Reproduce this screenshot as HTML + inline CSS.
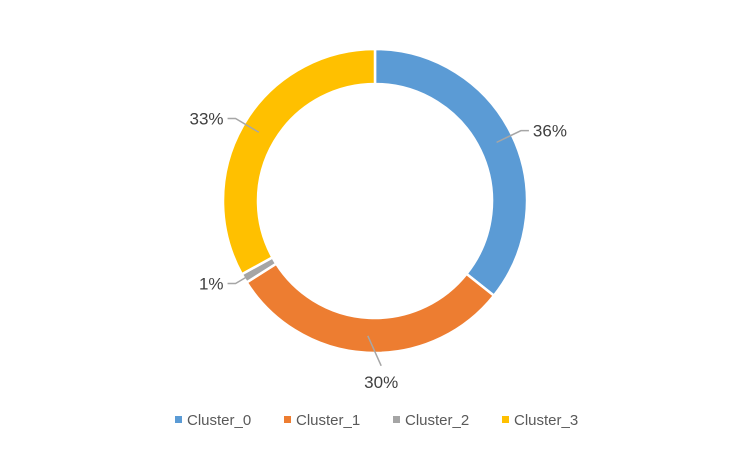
<!DOCTYPE html>
<html><head><meta charset="utf-8"><style>
body{margin:0;background:#fff;}
svg{display:block;font-family:"Liberation Sans",sans-serif;}
</style></head><body>
<svg id="chart" width="750" height="450">
<g id="slices"></g><g id="labels"></g><g id="legend"></g>
</svg>
<script>
const categories=["Cluster_0","Cluster_1","Cluster_2","Cluster_3"];
const values=[35.7,30.3,1.0,33.0];
const labelsTxt=["36%","30%","1%","33%"];
const colors=["#5B9BD5","#ED7D31","#A5A5A5","#FFC000"];
const NS="http://www.w3.org/2000/svg";
const cx=375,cy=201,R=152,r=117;
const total=values.reduce((a,b)=>a+b,0);
function pt(a,rad){return [cx+rad*Math.sin(a),cy-rad*Math.cos(a)];}
const gS=document.getElementById('slices'),gL=document.getElementById('labels'),gG=document.getElementById('legend');
let acc=0;
values.forEach((v,i)=>{
  const a0=acc/total*2*Math.PI;acc+=v;const a1=acc/total*2*Math.PI;
  const large=(a1-a0)>Math.PI?1:0;
  const p0=pt(a0,R),p1=pt(a1,R),q1=pt(a1,r),q0=pt(a0,r);
  const p=document.createElementNS(NS,'path');
  p.setAttribute('d',`M${p0[0]},${p0[1]}A${R},${R} 0 ${large} 1 ${p1[0]},${p1[1]}L${q1[0]},${q1[1]}A${r},${r} 0 ${large} 0 ${q0[0]},${q0[1]}Z`);
  p.setAttribute('fill',colors[i]);p.setAttribute('stroke','#fff');p.setAttribute('stroke-width','2.5');
  
  
  gS.appendChild(p);
  const am=(a0+a1)/2;const s=Math.sin(am);
  const m0=pt(am,135);
  const t=document.createElementNS(NS,'text');
  const ln=document.createElementNS(NS,'polyline');
  if(Math.abs(s)<0.4){
    const m1=pt(am,165);
    const tx=m1[0]+15;
    ln.setAttribute('points',`${m0[0]},${m0[1]} ${tx},${m1[1]}`);
    t.setAttribute('x',tx);t.setAttribute('y',m1[1]+(Math.cos(am)<0?22:-8));
    t.setAttribute('text-anchor','middle');
  } else {
    const m1=pt(am,162);
    const hx=m1[0]+(s>=0?8:-8);
    ln.setAttribute('points',`${m0[0]},${m0[1]} ${m1[0]},${m1[1]} ${hx},${m1[1]}`);
    t.setAttribute('x',hx+(s>=0?4:-4));t.setAttribute('y',m1[1]+6);
    t.setAttribute('text-anchor',s>=0?'start':'end');
  }
  ln.setAttribute('fill','none');ln.setAttribute('stroke','#A6A6A6');ln.setAttribute('stroke-width','1.5');
  
  
  gL.appendChild(ln);
  t.setAttribute('font-size','17');t.setAttribute('fill','#404040');
  t.textContent=labelsTxt[i];
  
  
  gL.appendChild(t);
});
const lx=[175,284,393,502];
categories.forEach((c,i)=>{
  const g=document.createElementNS(NS,'g');
  
  
  const rc=document.createElementNS(NS,'rect');
  rc.setAttribute('x',lx[i]);rc.setAttribute('y',416);rc.setAttribute('width',7);rc.setAttribute('height',7);rc.setAttribute('fill',colors[i]);
  
  
  const t=document.createElementNS(NS,'text');
  t.setAttribute('x',lx[i]+12);t.setAttribute('y',425);t.setAttribute('font-size','15');t.setAttribute('fill','#595959');
  t.textContent=c;
  
  
  g.appendChild(rc);g.appendChild(t);gG.appendChild(g);
});
</script>
</body></html>
